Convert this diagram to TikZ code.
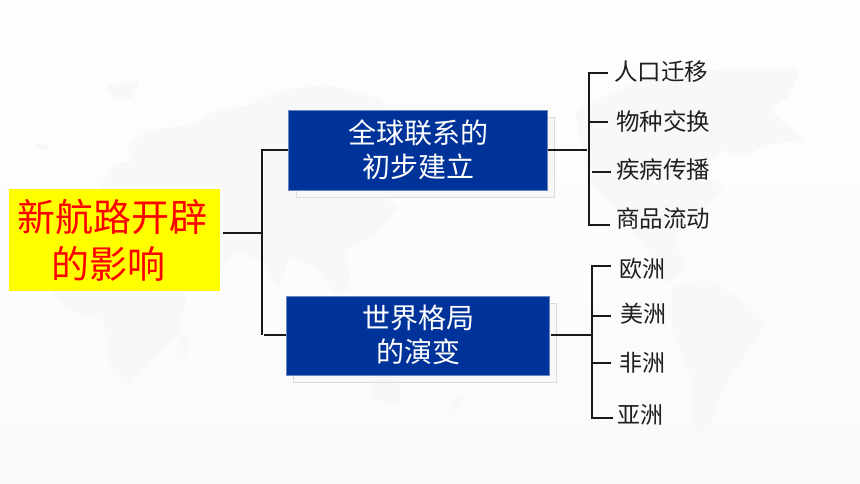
\documentclass[tikz,border=0pt]{standalone}
\usepackage{fontspec}
\setmainfont{Noto Sans CJK SC}
\definecolor{boxblue}{HTML}{003399}
\definecolor{mapgrey}{HTML}{F8F8F8}
\definecolor{papertop}{HTML}{FEFEFE}
\definecolor{paperbot}{HTML}{FAFAFA}
\definecolor{pureyellow}{HTML}{FFFF00}
\definecolor{purered}{HTML}{FF0000}
\tikzset{
  x=1pt,y=-1pt,
  link/.style={draw=black!90,line width=1.5pt},
  shadowbox/.style={draw=black!14,line width=0.8pt,fill=black!3},
  mainbox/.style={fill=boxblue,draw=boxblue!60!white,line width=0.7pt},
  boxtext/.style={text=white,font=\fontsize{28}{34.5}\selectfont,align=center,inner sep=0pt},
  leaf/.style={text=black!88,font=\fontsize{23.5}{28}\selectfont,inner sep=0pt,anchor=west},
  leafb/.style={text=black!88,font=\fontsize{23}{28}\selectfont,inner sep=0pt,anchor=west},
  land/.style={fill=mapgrey,draw=none,rounded corners=5pt},
}
\begin{document}
\begin{tikzpicture}
\useasboundingbox (0,0) rectangle (860,484);
\shade[top color=papertop,bottom color=paperbot] (0,0) rectangle (860,484);
% faint world map: Eurasia, Africa, Australia, the Americas and islands
\fill[land] (100,190) -- (112,165) -- (135,160) -- (125,145) -- (150,130) -- (190,125) -- (215,110) -- (250,105) -- (280,90) -- (330,85) -- (385,100) -- (375,140) -- (385,200) -- (400,205) -- (375,235) -- (345,250) -- (352,290) -- (335,295) -- (318,270) -- (290,255) -- (278,290) -- (262,262) -- (235,250) -- (205,290) -- (180,262) -- (165,230) -- (130,220) -- (100,210) -- cycle;
\fill[land] (50,292) -- (187,292) -- (178,335) -- (150,360) -- (127,387) -- (112,372) -- (103,320) -- (70,310) -- cycle;
\fill[land] (177,340) -- (188,335) -- (186,358) -- (177,364) -- cycle;
\fill[land] (372,370) -- (400,385) -- (402,400) -- (392,407) -- (370,395) -- cycle;
\fill[land] (35,143) -- (50,145) -- (48,150) -- (36,150) -- cycle;
\fill[land] (105,85) -- (140,82) -- (130,100) -- (115,100) -- cycle;
\fill[land] (335,222) -- (375,205) -- (365,232) -- (345,240) -- cycle;
\fill[land] (445,412) -- (462,392) -- (462,400) -- (450,418) -- cycle;
\fill[land] (575,110) -- (640,80) -- (700,70) -- (800,68) -- (790,95) -- (770,110) -- (805,140) -- (765,145) -- (745,158) -- (725,150) -- (695,170) -- (725,190) -- (695,215) -- (672,240) -- (690,265) -- (668,285) -- (640,240) -- (590,180) -- (580,140) -- cycle;
\fill[land] (672,285) -- (710,280) -- (740,300) -- (767,322) -- (745,355) -- (725,385) -- (705,440) -- (690,435) -- (692,380) -- (672,330) -- cycle;
% boxes
\filldraw[shadowbox] (296,117) rectangle (554.5,197);
\filldraw[shadowbox] (293,303) rectangle (556,382);
\node[fill=pureyellow,minimum width=211.5pt,minimum height=102pt,inner sep=0pt] (root) at (114.25,240) {};
\node[text=purered,font=\fontsize{38}{47}\selectfont,align=left,inner sep=0pt,anchor=west] (roottext) at (17,240) {新航路开辟\\\hspace{0.9em}的影响};
\node[mainbox,minimum width=259pt,minimum height=79.5pt,inner sep=0pt] (a) at (418,150.25) {};
\node[boxtext] (at) at (418,149.5) {全球联系的\\初步建立};
\node[mainbox,minimum width=263pt,minimum height=79pt,inner sep=0pt] (b) at (417.5,335.5) {};
\node[boxtext] (bt) at (418,335) {世界格局\\的演变};
% leaves
\node[leaf] (a1) at (614,72) {人口迁移};
\node[leaf] (a2) at (616,121) {物种交换};
\node[leaf] (a3) at (616,170) {疾病传播};
\node[leaf] (a4) at (616,219) {商品流动};
\node[leafb] (b1) at (619,269) {欧洲};
\node[leafb] (b2) at (620,314) {美洲};
\node[leafb] (b3) at (619,363) {非洲};
\node[leafb] (b4) at (617,415) {亚洲};
% junctions
\coordinate (j0) at (262,233);
\coordinate (j1) at (589,150);
\coordinate (j2) at (592,335);
% connectors
\draw[link] (223,233) -- (j0);
\draw[link] (a.west |- 0,150) -| (262,335);
\draw[link] (264,335) -- (b.west |- 0,335);
\draw[link] (a.east |- 0,150) -- (587,150);
\draw[link] (551,335) -- (j2);
\draw[link] (608,73) -| (j1);
\draw[link] (j1) |- (610,225);
\draw[link] (j1 |- 0,122) -- (608,122);
\draw[link] (592,172) -- (611,172);
\draw[link] (611,266) -| (j2);
\draw[link] (j2) |- (613,418);
\draw[link] (j2 |- 0,316) -- (611,316);
\draw[link] (j2 |- 0,363) -- (611,363);
\end{tikzpicture}
\end{document}
